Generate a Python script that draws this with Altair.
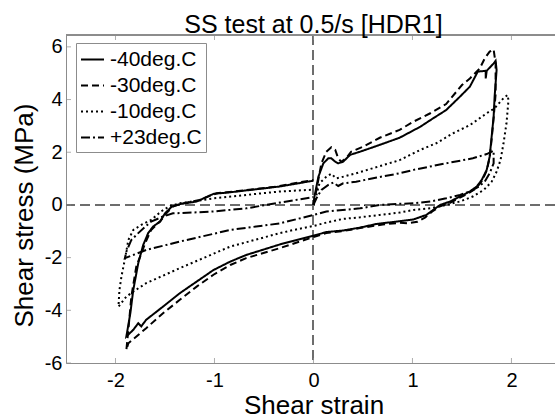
import altair as alt
import pandas as pd

# ---------------- data ----------------
series_names = ["-40deg.C", "-30deg.C", "-10deg.C", "+23deg.C"]

# -40 deg C (solid)
m40_x = [0, 0.01, 0.05, 0.10, 0.15, 0.18, 0.22, 0.25, 0.30, 0.37, 0.47, 0.64, 0.87, 1.08, 1.21, 1.34, 1.48, 1.58, 1.66, 1.74, 1.74, 1.75, 1.82, 1.84,
         1.85, 1.83, 1.82, 1.80, 1.78, 1.75, 1.70, 1.65, 1.58, 1.48, 1.38, 1.28,
         1.21, 1.14, 1.01, 0.87, 0.64, 0.47, 0.30, 0.13, 0.0,
         -0.34, -0.68, -0.84, -1.01, -1.18, -1.35, -1.52, -1.69, -1.74, -1.77, -1.82, -1.89,
         -1.85, -1.82, -1.77, -1.72, -1.67, -1.62, -1.55, -1.50, -1.43, -1.35, -1.18, -1.01, -0.84, -0.34, 0.0]
m40_y = [0, 0.32, 1.07, 1.58, 1.77, 1.77, 1.64, 1.58, 1.64, 1.90, 2.02, 2.24, 2.55, 2.97, 3.29, 3.60, 4.11, 4.49, 5.06, 5.09, 4.80, 5.09, 5.37, 5.47,
         5.12, 4.11, 3.35, 2.59, 1.83, 1.33, 0.95, 0.70, 0.51, 0.32, 0.13, 0.0,
         -0.19, -0.38, -0.55, -0.62, -0.72, -0.86, -0.97, -1.03, -1.17,
         -1.50, -1.90, -2.15, -2.47, -2.91, -3.35, -3.86, -4.36, -4.61, -4.49, -4.74, -4.99,
         -4.11, -3.22, -2.21, -1.52, -1.07, -0.82, -0.63, -0.32, -0.06, 0.03, 0.13, 0.42, 0.48, 0.70, 0.92]

# -30 deg C (dashed)
m30_x = [0, 0.03, 0.08, 0.13, 0.18, 0.22, 0.25, 0.28, 0.33, 0.38, 0.50, 0.67, 0.87, 1.01, 1.18, 1.34, 1.50, 1.58, 1.68, 1.73, 1.78, 1.82,
         1.84, 1.84, 1.82, 1.80, 1.78, 1.75, 1.70, 1.64, 1.57, 1.48, 1.38, 1.28, 1.20, 1.13, 1.05, 0.95, 0.87, 0.70, 0.47, 0.30, 0.13, 0.0,
         -0.34, -0.68, -0.84, -1.01, -1.18, -1.35, -1.52, -1.69, -1.75, -1.87, -1.89,
         -1.87, -1.84, -1.79, -1.70, -1.64, -1.55, -1.48, -1.42, -1.32, -1.15, -0.98, -0.81, -0.37, 0.0]
m30_y = [0, 0.57, 1.58, 2.02, 2.19, 2.09, 1.77, 1.64, 1.77, 2.02, 2.21, 2.55, 2.85, 3.16, 3.48, 3.83, 4.55, 4.80, 5.18, 5.56, 5.82, 5.90,
         5.37, 4.20, 3.30, 2.50, 1.80, 1.30, 0.90, 0.62, 0.45, 0.28, 0.08, -0.05, -0.25, -0.47, -0.64, -0.70, -0.68, -0.74, -0.88, -0.99, -1.07, -1.22,
         -1.64, -2.02, -2.28, -2.65, -3.10, -3.60, -4.11, -4.68, -4.87, -5.25, -5.50,
         -4.74, -3.48, -2.34, -1.45, -0.95, -0.63, -0.29, -0.06, 0.06, 0.19, 0.44, 0.51, 0.70, 0.95]

# -10 deg C (dotted)
m10_x = [0, 0.03, 0.06, 0.13, 0.18, 0.23, 0.28, 0.43, 0.65, 0.87, 1.08, 1.24, 1.41, 1.58, 1.75, 1.83, 1.92, 1.96,
         1.97, 1.95, 1.92, 1.89, 1.85, 1.80, 1.72, 1.61, 1.48, 1.34, 1.18, 1.01, 0.87, 0.67, 0.47, 0.30, 0.13, 0.0,
         -0.20, -0.34, -0.84, -1.35, -1.69, -1.82, -1.89, -1.97,
         -1.96, -1.94, -1.90, -1.87, -1.82, -1.74, -1.64, -1.54, -1.45, -1.35, -1.01, -0.68, -0.34, 0.0]
m10_y = [0, 0.38, 0.82, 1.07, 1.18, 1.01, 1.05, 1.20, 1.45, 1.70, 2.09, 2.34, 2.72, 3.03, 3.48, 3.67, 4.05, 4.17,
         3.98, 3.10, 2.34, 1.71, 1.26, 0.88, 0.57, 0.32, 0.13, 0.0, -0.13, -0.19, -0.29, -0.38, -0.47, -0.53, -0.67, -0.80,
         -0.95, -1.07, -1.58, -2.40, -2.97, -3.29, -3.48, -3.86,
         -3.22, -2.72, -1.96, -1.33, -0.95, -0.76, -0.57, -0.25, -0.04, 0.06, 0.25, 0.38, 0.51, 0.58]

# +23 deg C (dash-dot)
p23_x = [0, 0.03, 0.08, 0.15, 0.20, 0.25, 0.30, 0.43, 0.64, 0.87, 1.01, 1.34, 1.61, 1.75, 1.82,
         1.82, 1.78, 1.73, 1.66, 1.58, 1.48, 1.34, 1.18, 1.01, 0.84, 0.67, 0.47, 0.13, 0.0,
         -0.34, -0.84, -1.35, -1.69, -1.905,
         -1.89, -1.84, -1.77, -1.64, -1.52, -1.42, -1.01, -0.68, -0.34, 0.0]
p23_y = [0, 0.25, 0.57, 0.76, 0.85, 0.72, 0.82, 0.88, 1.04, 1.20, 1.33, 1.58, 1.77, 1.93, 2.06,
         1.58, 1.20, 0.88, 0.67, 0.51, 0.38, 0.25, 0.13, 0.06, 0.04, 0.0, -0.13, -0.25, -0.38,
         -0.70, -0.95, -1.39, -1.71, -2.02,
         -1.77, -1.33, -1.07, -0.63, -0.44, -0.32, -0.25, -0.13, 0.09, 0.30]

x_ticks = [-2, -1, 0, 1, 2]
y_ticks = [-6, -4, -2, 0, 2, 4, 6]

# ---------------- build table ----------------
rows = []
for name, xs, ys in [("+23deg.C", p23_x, p23_y), ("-10deg.C", m10_x, m10_y),
                     ("-30deg.C", m30_x, m30_y), ("-40deg.C", m40_x, m40_y)]:
    for i, (xv, yv) in enumerate(zip(xs, ys)):
        rows.append({"series": name, "idx": i, "strain": xv, "stress": yv})
df = pd.DataFrame(rows)

FONT = "Liberation Sans"
GREY = "#8c8c8c"
X_DOMAIN = [-2.5, 2.44]
Y_DOMAIN = [-6, 6.45]

xscale = alt.Scale(domain=X_DOMAIN, nice=False, zero=False)
yscale = alt.Scale(domain=Y_DOMAIN, nice=False, zero=False)

x_axis = alt.Axis(values=x_ticks, ticks=False, grid=False, domainColor=GREY,
                  labelFont=FONT, labelFontSize=20, labelColor="black",
                  labelBaseline="alphabetic", labelPadding=23,
                  labelExpr="datum.value + ''",
                  title="Shear strain", titleFont=FONT, titleFontSize=26,
                  titleFontWeight="normal", titleColor="black",
                  titleBaseline="alphabetic", titleY=50, titleX=247.5)
y_axis = alt.Axis(values=y_ticks, ticks=False, grid=False, domainColor=GREY,
                  labelFont=FONT, labelFontSize=20, labelColor="black",
                  labelPadding=4, labelExpr="datum.value + ''",
                  title="Shear stress (MPa)", titleFont=FONT, titleFontSize=26,
                  titleFontWeight="normal", titleColor="black",
                  titleBaseline="alphabetic", titleX=-34, titleY=180)

lines = alt.Chart(df).mark_line(color="black", strokeWidth=2, strokeCap="butt").encode(
    x=alt.X("strain:Q", scale=xscale, axis=x_axis),
    y=alt.Y("stress:Q", scale=yscale, axis=y_axis),
    strokeDash=alt.StrokeDash(
        "series:N",
        scale=alt.Scale(domain=series_names,
                        range=[[1, 0], [7, 4], [2, 3], [9, 3, 2, 3]]),
        legend=alt.Legend(title=None, orient="none", legendX=10, legendY=8,
                          symbolType="stroke", symbolSize=529, symbolStrokeWidth=2,
                          symbolStrokeColor="black", labelFont=FONT, labelFontSize=21,
                          labelColor="black", labelOffset=5, rowPadding=3,
                          padding=4, strokeColor=GREY, fillColor="white"),
    ),
    order=alt.Order("idx:Q"),
)

zero_h = alt.Chart(df).mark_rule(color="#6e6e6e", strokeWidth=1, strokeDash=[10, 5]).encode(
    y=alt.datum(0, scale=yscale))
zero_v = alt.Chart(df).mark_rule(color="#6e6e6e", strokeWidth=1, strokeDash=[10, 5]).encode(
    x=alt.datum(0, scale=xscale))
top_border = alt.Chart(df).mark_rule(color=GREY, strokeWidth=1).encode(
    y=alt.datum(Y_DOMAIN[1], scale=yscale))

xt = pd.DataFrame({"t": x_ticks})
yt = pd.DataFrame({"t": y_ticks})
tick_bottom = alt.Chart(xt).mark_tick(orient="vertical", size=5, thickness=1, color=GREY, yOffset=-2.5).encode(
    x=alt.X("t:Q", scale=xscale), y=alt.datum(Y_DOMAIN[0], scale=yscale))
tick_top = alt.Chart(xt).mark_tick(orient="vertical", size=5, thickness=1, color=GREY, yOffset=2.5).encode(
    x=alt.X("t:Q", scale=xscale), y=alt.datum(Y_DOMAIN[1], scale=yscale))
tick_left = alt.Chart(yt).mark_tick(orient="horizontal", size=5, thickness=1, color=GREY, xOffset=2.5).encode(
    y=alt.Y("t:Q", scale=yscale), x=alt.datum(X_DOMAIN[0], scale=xscale))

chart = alt.layer(zero_h, zero_v, top_border, tick_bottom, tick_top, tick_left, lines).properties(
    width=489, height=328,
    autosize=alt.AutoSizeParams(type="none"),
    padding={"left": 66, "top": 35, "right": 0, "bottom": 56},
    title=alt.TitleParams("SS test at 0.5/s [HDR1]", font=FONT, fontSize=25,
                          fontWeight="normal", color="black", anchor="middle",
                          frame="group", baseline="alphabetic", offset=5, dx=3, dy=28),
).configure_view(stroke=None).configure(background="white")

chart.save("out.html", embed_options={"renderer": "svg", "actions": False})
